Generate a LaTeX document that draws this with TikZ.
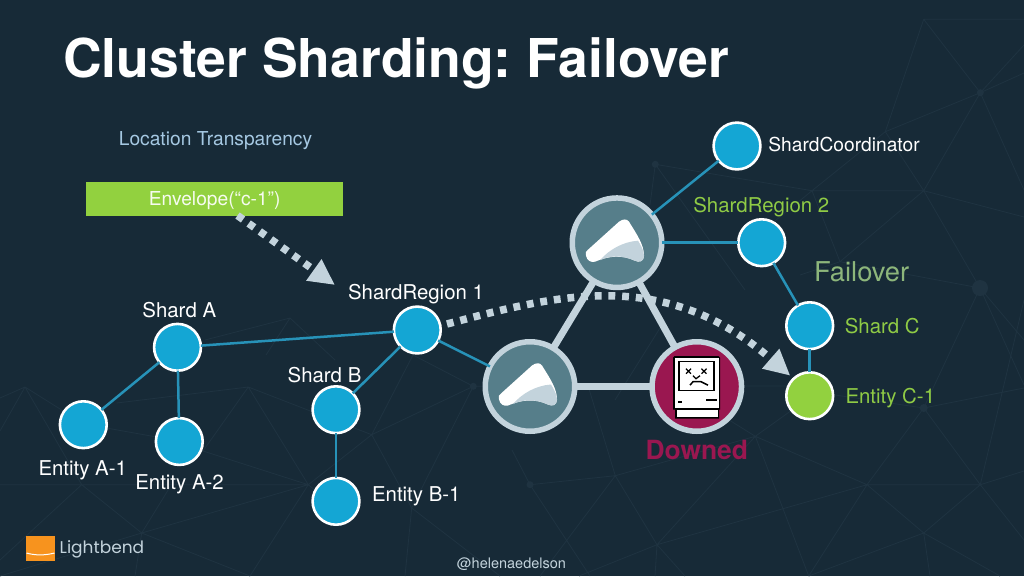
\documentclass[tikz,border=0pt]{standalone}
\usepackage{fontspec}
\setmainfont{TeX Gyre Heros}
\newfontfamily\logofont{Poppins}
\frenchspacing
\usetikzlibrary{arrows.meta}
\definecolor{bg}{HTML}{172A37}
\definecolor{bluefill}{HTML}{14A6D4}
\definecolor{linkblue}{HTML}{2792B8}
\definecolor{lime}{HTML}{92D13F}
\definecolor{labgreen}{HTML}{8FCB45}
\definecolor{pale}{HTML}{C3D3DC}
\definecolor{teal}{HTML}{567E8A}
\definecolor{downed}{HTML}{9A1750}
\definecolor{ltblue}{HTML}{A5C8E2}
\definecolor{failgreen}{HTML}{8DB67B}
\definecolor{orangelogo}{HTML}{F7931E}
\definecolor{net}{HTML}{1F3341}
\tikzset{
 x=1pt,y=-1pt,
 circ/.style={circle,draw=white,line width=2.6pt,fill=bluefill,minimum size=46.8pt,inner sep=0pt,outer sep=0pt},
 entc/.style={circ,fill=lime},
 big/.style={circle,draw=pale,line width=5.5pt,fill=teal,minimum size=89.5pt,inner sep=0pt,outer sep=0pt},
 bigd/.style={big,fill=downed},
 lnk/.style={draw=linkblue,line width=2.5pt},
 heavy link/.style={draw=pale,line width=7pt},
 dots/.style={draw=pale,line width=7.5pt,dash pattern=on 6.8pt off 6.9pt},
 lab/.style={font=\fontsize{19.2}{20}\selectfont,text=white,inner sep=0pt,anchor=base},
 blab/.style={lab,font=\fontsize{20.4}{22}\selectfont},
 glab/.style={blab,text=labgreen},
 netl/.style={draw=net,line width=0.8pt},
 netd/.style={fill=net},
}
\newcommand{\akkalogo}[1]{%
 \begin{scope}[shift={(#1)}]
  \fill[white] (-31,13) .. controls (-32,10) and (-31,8) .. (-29,7) -- (2,-21) .. controls (6,-24) and (10,-24) .. (12,-21) .. controls (20,-8) and (27,2) .. (27,13) .. controls (27,19) and (22,20) .. (18,18) .. controls (5,12) and (-8,13) .. (-22,19) .. controls (-26,20) and (-30,18) .. (-31,13) -- cycle;
  \fill[pale] (-17,17.5) .. controls (-8,7) and (6,-1) .. (21,-2) .. controls (24,3) and (27,8) .. (27,13) .. controls (27,19) and (22,20) .. (18,18) .. controls (5,12) and (-8,13) .. (-17,17.5) -- cycle;
 \end{scope}}
\begin{document}
\begin{tikzpicture}
\useasboundingbox (0,0) rectangle (1024,576);
\fill[bg] (0,0) rectangle (1024,576);
% faint background net
\draw[netl] (923.7,19.3) -- (1024,19.3) (923.7,19.3) -- (980.3,92.7) -- (923.7,190.7) (923.7,19.3) -- (885.3,131.7) -- (923.7,190.7)
 (980.3,92.7) -- (885.3,131.7) -- (812,190.7) -- (923.7,190.7) (655.3,164.3) -- (812,190.7) (923.7,190.7) -- (1024,217)
 (923.7,190.7) -- (840,261.7) (923.7,190.7) -- (980,288) (980.3,92.7) -- (1024,73) (980.3,92.7) -- (1024,190) (1024,45) -- (980.3,92.7)
 (812,190.7) -- (840,261.7) (812,190.7) -- (770,225) (655.3,164.3) -- (650,205) (655.3,164.3) -- (745,290)
 (840,261.7) -- (980,288) (840,261.7) -- (800,275) (980,288) -- (923.7,408) (980,288) -- (1024,340) (980,288) -- (1024,385);
\draw[netl] (923.7,408) -- (867,484.7) (923.7,408) -- (1024,388) (923.7,408) -- (835,395) (530,484.7) -- (615.3,475.7) -- (755.3,436.3) -- (867,484.7) -- (980.3,484.7) -- (923.7,533) -- (867,484.7)
 (980.3,484.7) -- (1024,471) (923.7,533) -- (808.7,576) (923.7,533) -- (1000,576) (980.3,484.7) -- (1024,540) (923.7,533) -- (930,576) (867,484.7) -- (980.3,484.7) (1024,300) -- (980.3,484.7)
 (657,544.7) -- (615.3,475.7) (657,544.7) -- (755.3,436.3) (657,544.7) -- (685,576) (657,544.7) -- (655,576) (657,544.7) -- (579,576)
 (615.3,475.7) -- (588.7,388) (615.3,475.7) -- (540,576) (530,484.7) -- (512,450) (530,484.7) -- (590,576)
 (755.3,436.3) -- (808.7,576) (755.3,436.3) -- (792,410) (755.3,436.3) -- (697,400) (657,544.7) -- (867,484.7) (808.7,576) -- (867,484.7) (923.7,408) -- (980.3,484.7)
 (800,386) -- (745,386) (615,400) -- (665,320);
\draw[netl] (25,387) -- (0,398) (25,387) -- (0,431) (25,387) -- (81.7,484.7) (25,387) -- (84,424) -- (179,441) (248.3,387) -- (203,451) (248.3,387) -- (116.7,403) (248.3,387) -- (371.7,434.7) (248.3,387) -- (308.3,484.7)
 (81.7,484.7) -- (0,484.7) (81.7,484.7) -- (308.3,484.7) (81.7,484.7) -- (141.7,533) (81.7,484.7) -- (0,560) (203,451) -- (308.3,484.7) (141.7,533) -- (308.3,484.7) (141.7,533) -- (250,576) (141.7,533) -- (170,487) (141.7,533) -- (0,576) (141.7,533) -- (135,576)
 (308.3,484.7) -- (371.7,434.7) -- (473.3,386.3) -- (413,355) (371.7,434.7) -- (411.7,508) (308.3,484.7) -- (250,576) (411.7,508) -- (405,576) (411.7,508) -- (500,576) (308.3,484.7) -- (345,515) (371.7,434.7) -- (413,355)
 (290,318) -- (266,355) (290,318) -- (335,360) (290,318) -- (205,340) (473.3,386.3) -- (411.7,508) (473.3,386.3) -- (512,386);
\fill[netd] (980.3,92.7) circle (3.5) (655.3,164.3) circle (3.5) (923.7,408) circle (4) (530,484.7) circle (3.5) (980,288) circle (8) (473.3,386.3) circle (3.5);
% title and labels
\node[anchor=base west,font=\bfseries\fontsize{53.5}{56}\selectfont,text=white,inner sep=0pt] (title) at (63,77) {Cluster Sharding: Failover};
\node[lab,text=ltblue] (loc) at (215.5,145) {Location Transparency};
\node[fill=lime,minimum width=257pt,minimum height=34pt,inner sep=0pt] (env) at (214.7,198.5) {};
\node[lab,text=white!92!lime] (envt) at (214.7,205) {Envelope(“c-1”)};
% nodes
\node[big] (top) at (617,242.7) {};
\node[big] (left) at (530,386.5) {};
\node[bigd] (down) at (696.8,386.5) {};
\node[circ] (coord) at (737,146) {};
\node[circ] (sr2) at (761.7,242.7) {};
\node[circ] (sc) at (809.7,325.7) {};
\node[entc] (ec) at (809.7,395.7) {};
\node[circ] (sr1) at (417.3,330) {};
\node[circ] (sa) at (177.5,347.3) {};
\node[circ] (sb) at (336,409.7) {};
\node[circ] (eb) at (336,501.3) {};
\node[circ] (ea1) at (83.3,424.7) {};
\node[circ] (ea2) at (179.3,441.5) {};
% connectors
\draw[lnk] (coord) -- (top);
\draw[lnk] (top) -- (sr2);
\draw[lnk] (sr2) -- (sc);
\draw[lnk] (sc) -- (ec);
\draw[lnk] (sr1) -- (left);
\draw[lnk] (sr1) -- (sa);
\draw[lnk] (sr1) -- (sb);
\draw[lnk] (sb) -- (eb);
\draw[lnk] (sa) -- (ea1);
\draw[lnk] (sa) -- (ea2);
\draw[heavy link] (top) -- (left);
\draw[heavy link] (top) -- (down);
\draw[heavy link] (left) -- (down);
% logos
\akkalogo{617,242.7}
\akkalogo{530,386.5}
% Mac icon
\begin{scope}[shift={(697,386.7)}]
 \fill[black] (-22.5,-30.5) -- (21.5,-30.5) -- (23,-29) -- (23,23) -- (22,23) -- (22,32) -- (-22,32) -- (-22,23) -- (-24,23) -- (-24,-29) -- cycle;
 \fill[white] (-22.5,-29) rectangle (21.5,21.5);
 \fill[white] (-20.5,23) rectangle (20.5,30.5);
 \fill[black] (-19,-26) rectangle (18,4.5);
 \fill[white] (-17.3,-24.3) rectangle (16.3,2.8);
 \draw[black,line width=1.3pt] (-11,-18) -- (-6,-13) (-11,-13) -- (-6,-18) (4.5,-18) -- (9.5,-13) (4.5,-13) -- (9.5,-18);
 \draw[black,line width=1.3pt] (-4,-11) -- (-1,-8) -- (3,-11);
 \draw[black,line width=1.5pt] (-7,-1.5) -- (-4,-5) -- (4,-5) -- (11,-1.5);
 \fill[black] (-19.5,14.5) rectangle (-15.5,16.5);
 \fill[black] (8.5,12) rectangle (20,14);
\end{scope}
% dotted arrows
\coordinate (astart) at (237.5,215.5);
\coordinate (aend) at (335,285);
\draw[dots,-{Triangle[length=26pt,width=24.5pt]}] (astart) -- (aend);
\coordinate (dstart) at (447,324);
\coordinate (dend) at (790.3,375.7);
\draw[dots,-{Triangle[length=26pt,width=24.5pt]}] (dstart) .. controls (557,295) and (664,266) .. (dend);
% labels
\node[lab] (lcoord) at (844,151) {ShardCoordinator};
\node[glab] (lsr2) at (761.3,212) {ShardRegion 2};
\node[lab,font=\fontsize{27.3}{28}\selectfont,text=failgreen] (lfail) at (861.7,281) {Failover};
\node[glab] (lsc) at (882.2,333) {Shard C};
\node[glab] (lec) at (890.3,403.3) {Entity C-1};
\node[blab] (lsr1) at (416,299.7) {ShardRegion 1};
\node[blab] (lsa) at (179.3,317) {Shard A};
\node[blab] (lsb) at (324.5,382.7) {Shard B};
\node[blab] (lea1) at (82.7,475.3) {Entity A-1};
\node[blab] (lea2) at (179.5,489.7) {Entity A-2};
\node[blab] (leb) at (416.3,501.7) {Entity B-1};
\node[lab,font=\bfseries\fontsize{26.4}{28}\selectfont,text=downed] (ldown) at (696.8,459.5) {Downed};
\node[lab,font=\fontsize{14.5}{16}\selectfont,text=pale] (lhandle) at (511.5,568.7) {@helenaedelson};
% Lightbend logo
\fill[orangelogo] (26,536) rectangle (54.8,560.7);
\draw[white,line width=1pt] (26.5,553) .. controls (35,555.5) and (45,555.5) .. (54.5,553);
\node[font=\logofont\fontsize{17}{19}\selectfont,text=pale,anchor=base west,inner sep=0pt] (llogo) at (59.5,553.7) {Lightbend};
\end{tikzpicture}
\end{document}
